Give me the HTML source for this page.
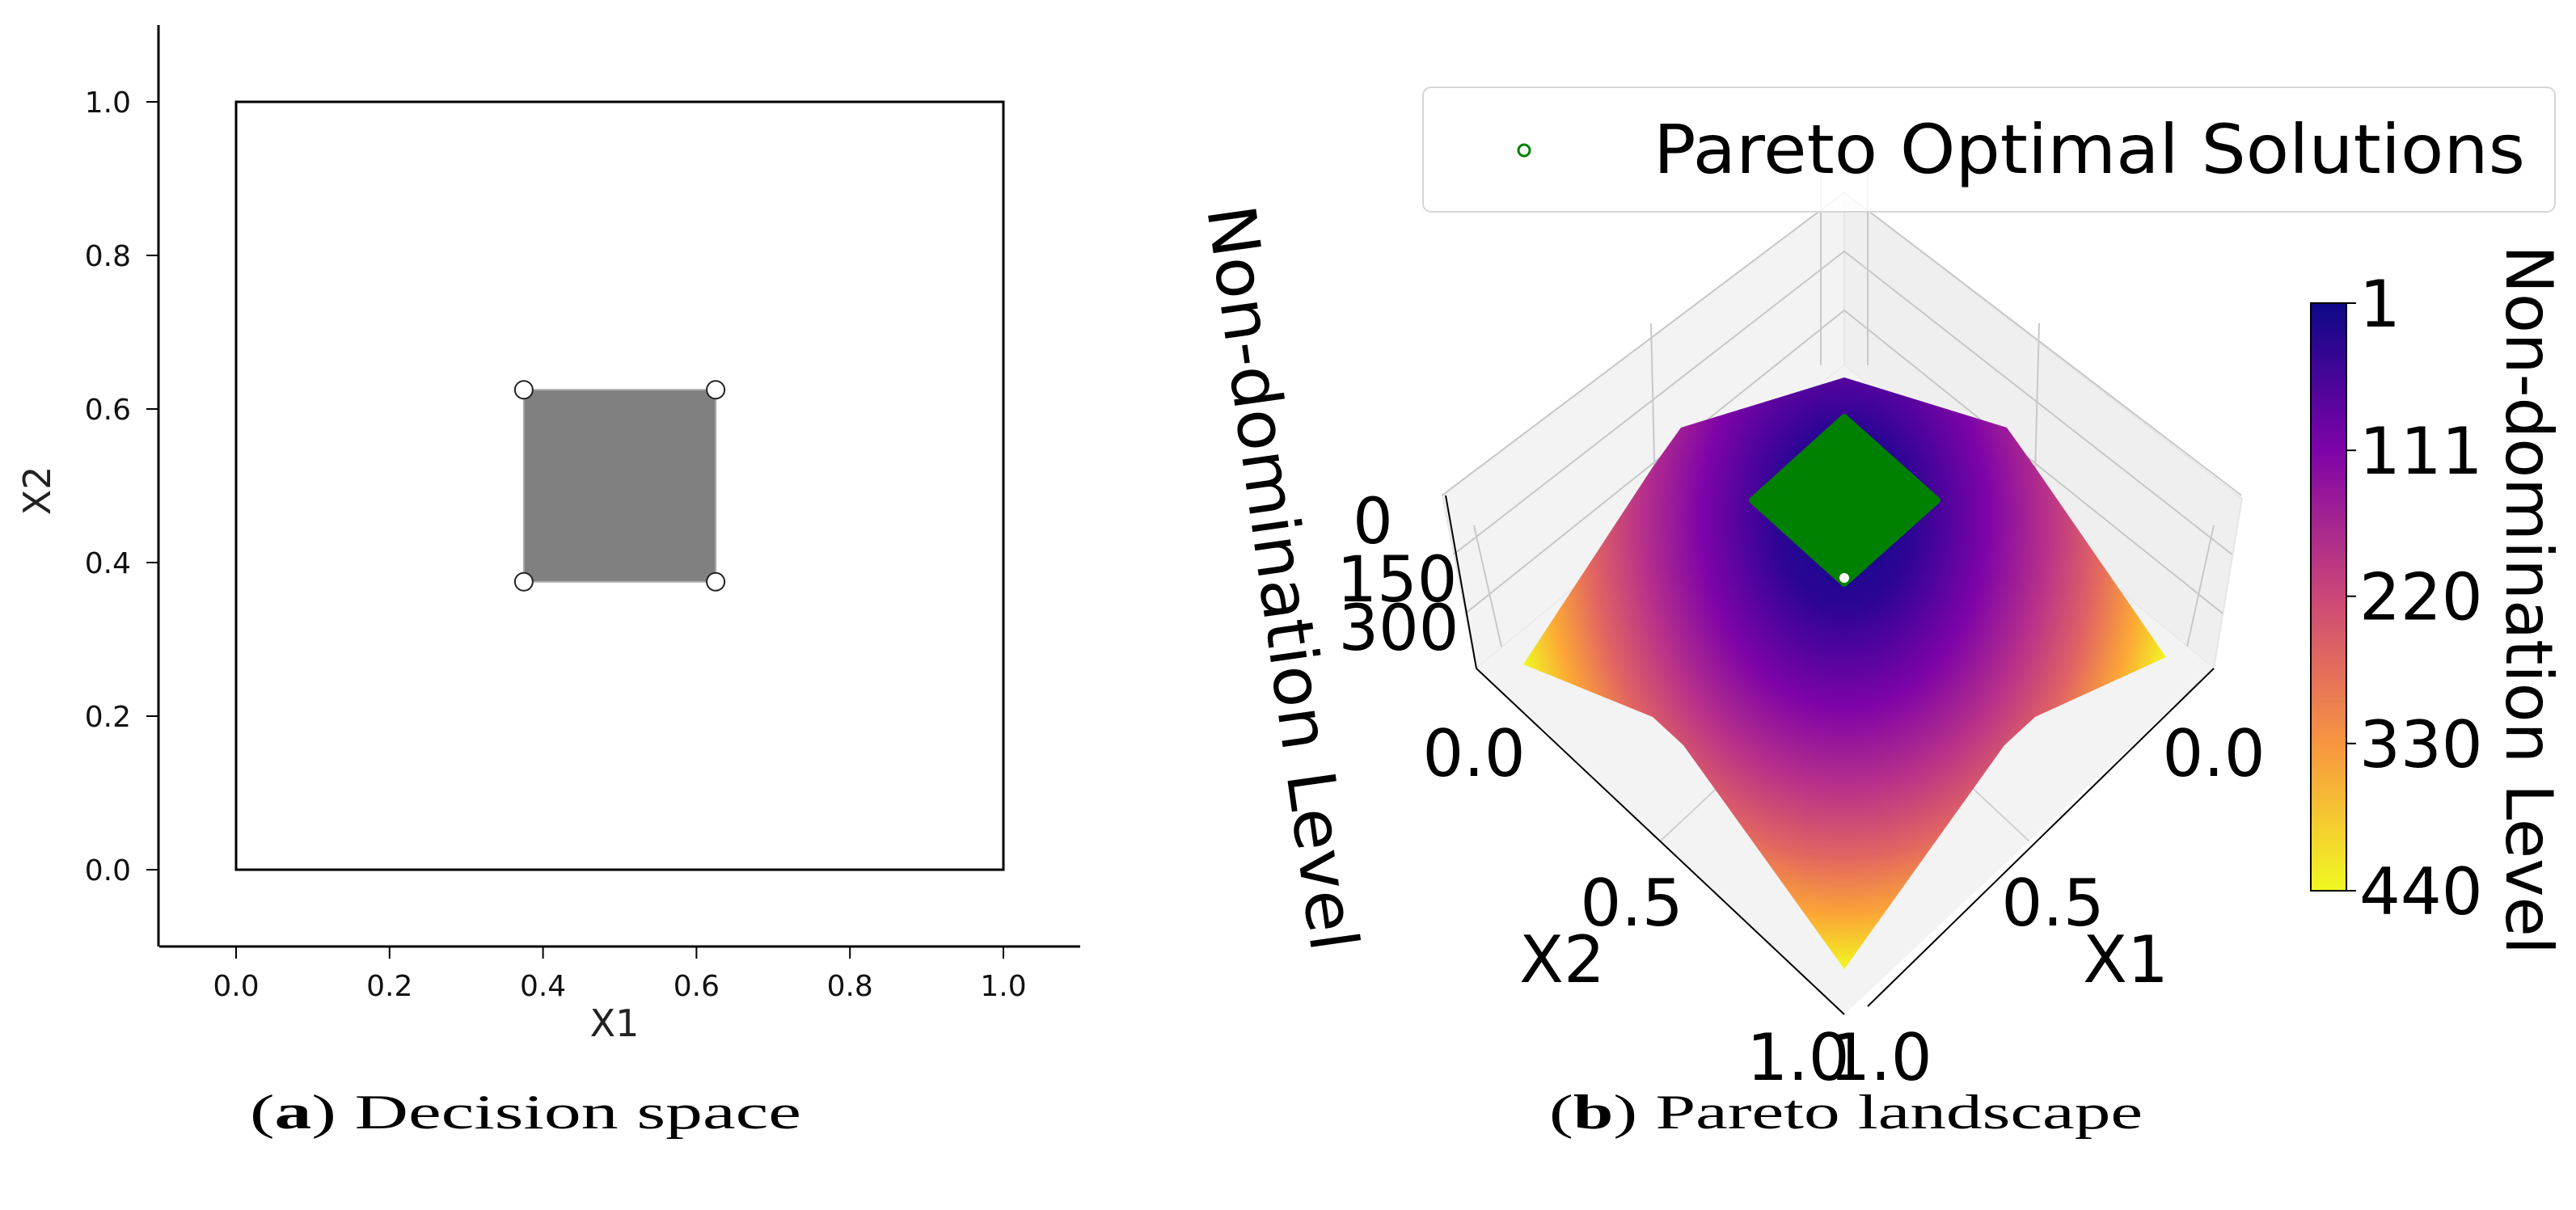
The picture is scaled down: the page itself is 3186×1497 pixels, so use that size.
<!DOCTYPE html>
<html><head><meta charset="utf-8"><style>
html,body{margin:0;padding:0;background:#fff;}
svg{display:block;}
text{font-family:"DejaVu Sans","Liberation Sans",sans-serif;}
.cap{font-family:"Liberation Serif","DejaVu Serif",serif;}
</style></head><body>
<svg id="fig" width="3186" height="1497" viewBox="0 0 3186 1497" xmlns="http://www.w3.org/2000/svg">
<defs>
<radialGradient id="plasma" gradientUnits="userSpaceOnUse" cx="2281" cy="640" r="560" gradientTransform="translate(2281 640) scale(0.75 1) translate(-2281 -640)">
<stop offset="0" stop-color="#0d0887"/>
<stop offset="0.2" stop-color="#2c0594"/>
<stop offset="0.42" stop-color="#7e03a8"/>
<stop offset="0.6" stop-color="#b83289"/>
<stop offset="0.75" stop-color="#e16462"/>
<stop offset="0.88" stop-color="#fca636"/>
<stop offset="1" stop-color="#f0f921"/>
</radialGradient>
<linearGradient id="cbar" x1="0" y1="0" x2="0" y2="1">
<stop offset="0" stop-color="#0d0887"/>
<stop offset="0.25" stop-color="#7e03a8"/>
<stop offset="0.5" stop-color="#cc4778"/>
<stop offset="0.75" stop-color="#f89540"/>
<stop offset="1" stop-color="#f0f921"/>
</linearGradient>
</defs>
<g id="left"></g>
<g id="right"></g>
<text class="cap" x="650" y="1396" font-size="60" text-anchor="middle" textLength="682" lengthAdjust="spacingAndGlyphs">(<tspan font-weight="bold">a</tspan>) Decision space</text>
<text class="cap" x="2283" y="1396" font-size="60" text-anchor="middle" textLength="734" lengthAdjust="spacingAndGlyphs">(<tspan font-weight="bold">b</tspan>) Pareto landscape</text>
</svg>
<script>
const NS="http://www.w3.org/2000/svg";
function mk(parent,tag,attrs,txt){const e=document.createElementNS(NS,tag);for(const k in attrs)e.setAttribute(k,attrs[k]);if(txt!==undefined)e.textContent=txt;parent.appendChild(e);return e;}

// ---- Left chart data ----
const xTicks=[0.0,0.2,0.4,0.6,0.8,1.0];
const yTicks=[0.0,0.2,0.4,0.6,0.8,1.0];
const domainBox=[0,0,1,1];
const paretoSquare=[0.375,0.375,0.625,0.625];
const cornerX=[0.375,0.625,0.375,0.625];
const cornerY=[0.375,0.375,0.625,0.625];
const axMin=-0.1, axMax=1.1;

const sx=v=>292+949*v, sy=v=>1076-950*v;
const L=document.getElementById('left');
let e;
e=mk(L,'line',{x1:sx(axMin),y1:1171,x2:sx(axMax),y2:1171,stroke:'#000','stroke-width':3});


e=mk(L,'line',{x1:196,y1:sy(axMax),x2:196,y2:1171,stroke:'#000','stroke-width':3});


xTicks.forEach(t=>{
  e=mk(L,'line',{x1:sx(t),y1:1171,x2:sx(t),y2:1186,stroke:'#000','stroke-width':2});
  
  
  e=mk(L,'text',{x:sx(t),y:1232,'font-size':36,'text-anchor':'middle',fill:'#111'},t.toFixed(1));
  
  
});
yTicks.forEach(t=>{
  e=mk(L,'line',{x1:181,y1:sy(t),x2:196,y2:sy(t),stroke:'#000','stroke-width':2});
  
  
  e=mk(L,'text',{x:162,y:sy(t)+13,'font-size':36,'text-anchor':'end',fill:'#111'},t.toFixed(1));
  
  
});
e=mk(L,'rect',{x:sx(domainBox[0]),y:sy(domainBox[3]),width:sx(domainBox[2])-sx(domainBox[0]),height:sy(domainBox[1])-sy(domainBox[3]),fill:'none',stroke:'#000','stroke-width':3});


e=mk(L,'rect',{x:sx(paretoSquare[0]),y:sy(paretoSquare[3]),width:sx(paretoSquare[2])-sx(paretoSquare[0]),height:sy(paretoSquare[1])-sy(paretoSquare[3]),fill:'#808080',stroke:'#aaa','stroke-width':2});


cornerX.forEach((cx,i)=>{
  e=mk(L,'circle',{cx:sx(cx),cy:sy(cornerY[i]),r:11,fill:'#fff',stroke:'#222','stroke-width':2});
  
  
});
e=mk(L,'text',{x:760,y:1282,'font-size':46,'text-anchor':'middle',fill:'#222'},'X1');


e=mk(L,'text',{x:62,y:607,'font-size':46,'text-anchor':'middle',fill:'#222',transform:'rotate(-90 62 607)'},'X2');



// ---- Right chart data ----
const cbarTicks=[1,111,220,330,440];
const zTicks=[0,150,300];
const floorTicks=[0.0,0.5,1.0];
const levelMin=1, levelMax=440;

const R=document.getElementById('right');
e=mk(R,'polygon',{points:'1826,827 2281,452 2281,238 1784,613',fill:'#f3f3f3',stroke:'#e6e6e6','stroke-width':2});


e=mk(R,'polygon',{points:'2738,827 2281,452 2281,238 2773,617',fill:'#efefef',stroke:'#e6e6e6','stroke-width':2});


e=mk(R,'polygon',{points:'1826,827 2281,452 2738,827 2281,1255',fill:'#f3f3f3'});


const zy=z=>452-(z/levelMax)*214;
[0,150,300].forEach(z=>{
  const dy=452-zy(levelMax-z);
  e=mk(R,'polyline',{points:`${1826-dy*0.2},${827-dy} 2281,${452-dy} ${2738+dy*0.16},${827-dy}`,fill:'none',stroke:'#c8c8c8','stroke-width':2});
  
  
});
[[1823,650,1857,800],[2042,400,2050,735],[2522,400,2513,735],[2738,650,2705,800],[2252,210,2252,452],[2310,210,2310,452]].forEach(p=>{
  e=mk(R,'line',{x1:p[0],y1:p[1],x2:p[2],y2:p[3],stroke:'#c8c8c8','stroke-width':2});
  
  
});
[[2053,1041,2510,613],[2510,1041,2053,613]].forEach(p=>{
  e=mk(R,'line',{x1:p[0],y1:p[1],x2:p[2],y2:p[3],stroke:'#d0d0d0','stroke-width':2});
  
  
});
e=mk(R,'polygon',{points:'2281,467 2079,529 2044,578 1884,822 2044,887 2082,922 2281,1199 2479,922 2517,887 2679,813 2517,578 2482,529',fill:'url(#plasma)'});


e=mk(R,'polygon',{points:'2281,516 2396,619 2281,722 2167,619',fill:'#008000',stroke:'#008000','stroke-width':8,'stroke-linejoin':'round'});


e=mk(R,'circle',{cx:2281,cy:715,r:6,fill:'#fff'});


e=mk(R,'polyline',{points:'1826,827 2281,1255',fill:'none',stroke:'#000','stroke-width':2});


e=mk(R,'polyline',{points:'2310,1245 2738,827',fill:'none',stroke:'#000','stroke-width':2});


e=mk(R,'line',{x1:1788,y1:613,x2:1826,y2:827,stroke:'#000','stroke-width':2});


const x2Pos=[[1823,960],[2018,1145],[2224,1336]];
const x1Pos=[[2738,960],[2539,1145],[2326,1336]];
floorTicks.forEach((t,i)=>{
  e=mk(R,'text',{x:x2Pos[i][0],y:x2Pos[i][1],'font-size':80,'text-anchor':'middle'},t.toFixed(1));
  
  
  e=mk(R,'text',{x:x1Pos[i][0],y:x1Pos[i][1],'font-size':80,'text-anchor':'middle'},t.toFixed(1));
  
  
});
e=mk(R,'text',{x:1932,y:1215,'font-size':80,'text-anchor':'middle'},'X2');


e=mk(R,'text',{x:2629,y:1215,'font-size':80,'text-anchor':'middle'},'X1');


const zPosX=[1698,1728,1730];
const zPosY=[672,744,804];
zTicks.forEach((t,i)=>{
  e=mk(R,'text',{x:zPosX[i],y:zPosY[i],'font-size':78,'text-anchor':'middle'},String(t));
  
  
});
e=mk(R,'text',{x:1580,y:716,'font-size':82,'text-anchor':'middle','dominant-baseline':'middle',textLength:930,lengthAdjust:'spacingAndGlyphs',transform:'rotate(82 1580 716)'},'Non-domination Level');


const cbTop=375, cbBot=1102;
const cy=v=>cbTop+(v-levelMin)/(levelMax-levelMin)*(cbBot-cbTop);
e=mk(R,'rect',{x:2858,y:cbTop,width:44,height:cbBot-cbTop,fill:'url(#cbar)',stroke:'#000','stroke-width':2});


cbarTicks.forEach(t=>{
  e=mk(R,'line',{x1:2902,y1:cy(t),x2:2914,y2:cy(t),stroke:'#000','stroke-width':2});
  
  
  e=mk(R,'text',{x:2918,y:cy(t)+29,'font-size':80},String(t));
  
  
});
e=mk(R,'text',{x:3122,y:742,'font-size':80,'text-anchor':'middle','dominant-baseline':'middle',transform:'rotate(90 3122 742)'},'Non-domination Level');


e=mk(R,'rect',{x:1760,y:108,width:1400,height:154,rx:10,fill:'#fff','fill-opacity':0.85,stroke:'#d6d6d6','stroke-width':2});


e=mk(R,'circle',{cx:1885,cy:186,r:7,fill:'none',stroke:'#008000','stroke-width':3});


e=mk(R,'text',{x:2045,y:214,'font-size':84,textLength:1078,lengthAdjust:'spacingAndGlyphs'},'Pareto Optimal Solutions');


</script>
</body></html>
